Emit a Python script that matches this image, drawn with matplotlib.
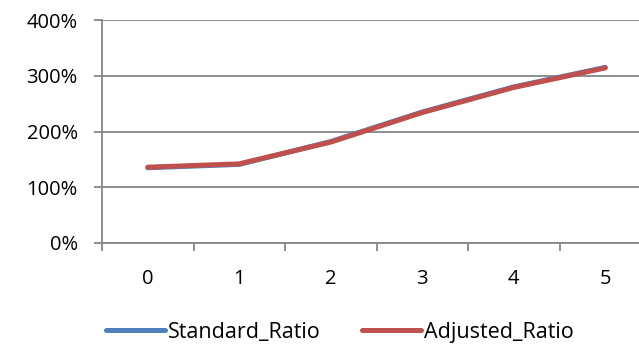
import matplotlib.pyplot as plt
from matplotlib.ticker import FixedLocator, PercentFormatter

# ratio data per step
steps = [0, 1, 2, 3, 4, 5]
standard_ratio = [1.35, 1.41, 1.82, 2.35, 2.80, 3.15]
adjusted_ratio = [1.36, 1.42, 1.81, 2.34, 2.79, 3.14]
y_ticks = [0, 1, 2, 3, 4]

plt.rcParams['font.family'] = ['Open Sans', 'DejaVu Sans']
grid_c = '#868686'

fig = plt.figure(figsize=(6.39, 3.48), dpi=100)
ax = fig.add_axes([102 / 639, 1 - 243 / 348, 549 / 639, 223 / 348])

ax.plot(steps, standard_ratio, color='#4F81BD', lw=3.6, solid_capstyle='round', label='Standard_Ratio')
ax.plot(steps, adjusted_ratio, color='#C0504D', lw=3.6, solid_capstyle='round', label='Adjusted_Ratio')

ax.set_xlim(-0.5, 5.5)
ax.set_ylim(0, 4)
ax.set_yticks(y_ticks)
ax.yaxis.set_major_formatter(PercentFormatter(1.0, decimals=0))
ax.set_xticks(steps)
ax.xaxis.set_minor_locator(FixedLocator([s - 0.5 for s in steps] + [5.5]))

ax.grid(axis='y', color=grid_c, lw=1.3)
ax.set_axisbelow(True)
for s in ['top', 'right']:
    ax.spines[s].set_visible(False)
for s in ['left', 'bottom']:
    ax.spines[s].set_color(grid_c)
    ax.spines[s].set_linewidth(1.3)

ax.tick_params(axis='y', length=5.5, width=1.3, color=grid_c, pad=12, labelsize=14.5)
ax.tick_params(axis='x', which='major', length=0, pad=19, labelsize=14.5)
ax.tick_params(axis='x', which='minor', length=5.5, width=1.3, color=grid_c)

fig.legend(loc='center', bbox_to_anchor=(340 / 639, 0.045), ncol=2, frameon=False,
           fontsize=15.5, handlelength=2.75, handletextpad=0.15, columnspacing=1.9)

fig.savefig('out.png', dpi=100)
